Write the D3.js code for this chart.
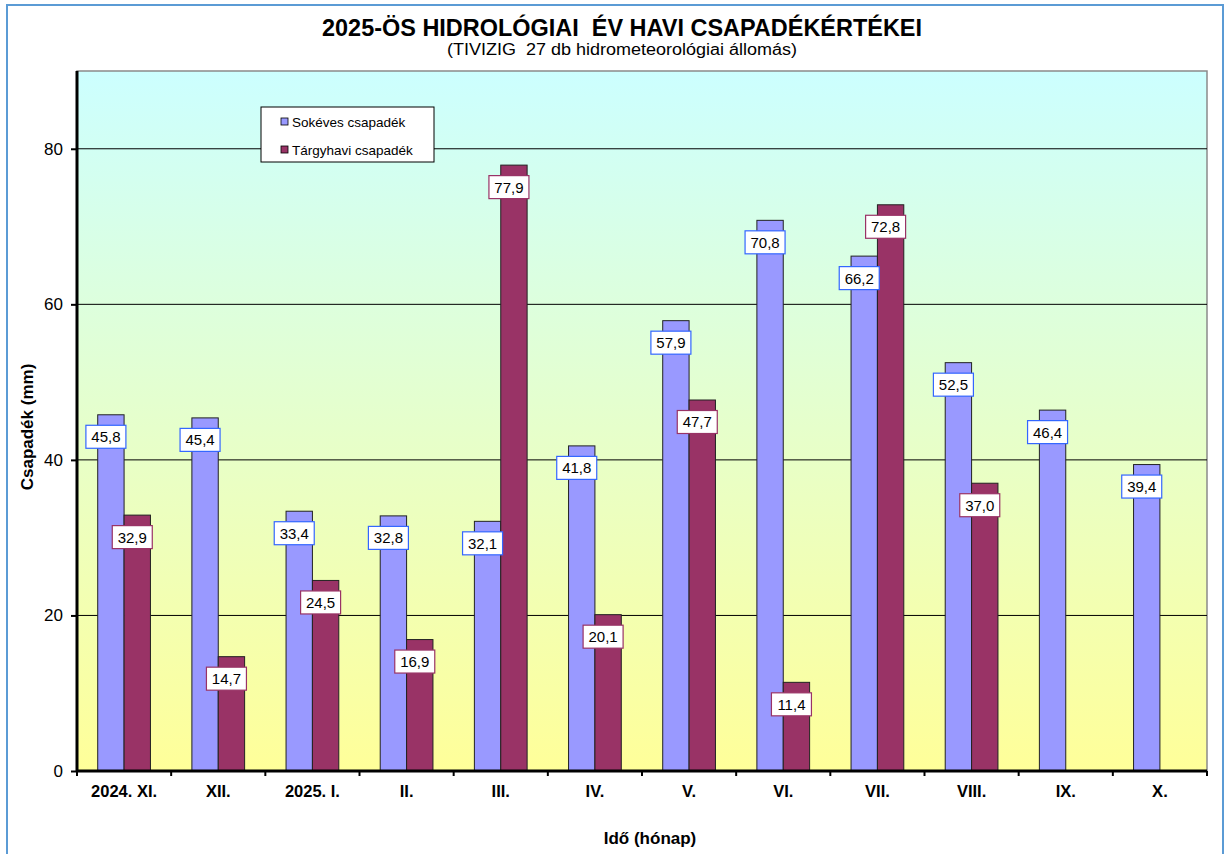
<!DOCTYPE html>
<html>
<head>
<meta charset="utf-8">
<script src="https://cdnjs.cloudflare.com/ajax/libs/d3/7.8.5/d3.min.js"></script>
<style>
  body { margin: 0; background: #fff; }
  text { font-family: Arial, "Liberation Sans", sans-serif; }
</style>
</head>
<body>
<div id="chart"></div>
<script>
// data
var months = ["2024. XI.", "XII.", "2025. I.", "II.", "III.", "IV.", "V.", "VI.", "VII.", "VIII.", "IX.", "X."];
var sokeves = [45.8, 45.4, 33.4, 32.8, 32.1, 41.8, 57.9, 70.8, 66.2, 52.5, 46.4, 39.4];
var targyhavi = [32.9, 14.7, 24.5, 16.9, 77.9, 20.1, 47.7, 11.4, 72.8, 37.0, null, null];
var seriesNames = ["Sokéves csapadék", "Tárgyhavi csapadék"];
var yTicks = [0, 20, 40, 60, 80];

var W = 1225, H = 854;
var plot = { left: 77, right: 1207, top: 71, bottom: 771 };
var colors = ["#9999ff", "#993366"];
var labelBorders = ["#3366ff", "#993366"];

var svg = d3.select("#chart").append("svg")
    .attr("width", W)
    .attr("height", H);

// outer frame
svg.append("rect")
    .attr("x", 7).attr("y", 5)
    .attr("width", 1216).attr("height", 860)
    .attr("fill", "#fff")
    .attr("stroke", "#5b9bd5")
    .attr("stroke-width", 2);

// background gradient for plot area
var grad = svg.append("defs").append("linearGradient")
    .attr("id", "bg").attr("x1", 0).attr("y1", 0).attr("x2", 0).attr("y2", 1);
grad.append("stop").attr("offset", "0%").attr("stop-color", "#ccffff");
grad.append("stop").attr("offset", "100%").attr("stop-color", "#ffff99");

var x0 = d3.scaleBand().domain(months).range([plot.left, plot.right]).paddingInner(0.44).paddingOuter(0.22);
var x1 = d3.scaleBand().domain([0, 1]).range([0, x0.bandwidth()]);
var y = d3.scaleLinear().domain([0, 90]).range([plot.bottom, plot.top]);

svg.append("rect")
    .attr("x", plot.left).attr("y", plot.top)
    .attr("width", plot.right - plot.left).attr("height", plot.bottom - plot.top)
    .attr("fill", "url(#bg)")
    .attr("stroke", "#8a8a8a")
    .attr("stroke-width", 1.5);

// gridlines
svg.append("g").selectAll("line")
    .data(yTicks.filter(function(d) { return d > 0; }))
    .enter().append("line")
    .attr("x1", plot.left).attr("x2", plot.right)
    .attr("y1", function(d) { return y(d); })
    .attr("y2", function(d) { return y(d); })
    .attr("stroke", "#000")
    .attr("stroke-width", 1);

// bars
var series = [sokeves, targyhavi];
series.forEach(function(vals, s) {
    svg.append("g").selectAll("rect")
        .data(vals.map(function(v, i) { return { m: months[i], v: v }; }).filter(function(d) { return d.v != null; }))
        .enter().append("rect")
        .attr("x", function(d) { return x0(d.m) + x1(s); })
        .attr("y", function(d) { return y(d.v); })
        .attr("width", x1.bandwidth())
        .attr("height", function(d) { return y(0) - y(d.v); })
        .attr("fill", colors[s])
        .attr("stroke", "#222")
        .attr("stroke-width", 1);
});

// value labels
var fmt = function(v) { return d3.format(".1f")(v).replace(".", ","); };
series.forEach(function(vals, s) {
    var g = svg.append("g").selectAll("g")
        .data(vals.map(function(v, i) { return { m: months[i], v: v }; }).filter(function(d) { return d.v != null; }))
        .enter().append("g")
        .attr("transform", function(d) {
            var cx = x0(d.m) + x1(s) + x1.bandwidth() / 2 - 5;
            var cy = y(d.v) + 22;
            return "translate(" + cx + "," + cy + ")";
        });
    g.append("rect")
        .attr("x", -20).attr("y", -11.5)
        .attr("width", 40).attr("height", 23)
        .attr("fill", "#fff")
        .attr("stroke", labelBorders[s])
        .attr("stroke-width", 1.2);
    g.append("text")
        .attr("text-anchor", "middle")
        .attr("dy", "0.36em")
        .style("font-size", "15px")
        .attr("fill", "#000")
        .text(function(d) { return fmt(d.v); });
});

// axes
var yAxis = svg.append("g")
    .attr("transform", "translate(" + plot.left + ",0)")
    .call(d3.axisLeft(y).tickValues(yTicks).tickSize(6).tickPadding(8));
yAxis.select(".domain").attr("stroke", "#000").attr("stroke-width", 3)
    .attr("d", "M0," + plot.top + "V" + plot.bottom);
yAxis.selectAll(".tick line").attr("stroke", "#000").attr("stroke-width", 2);
yAxis.selectAll(".tick text").style("font-size", "17px").attr("fill", "#000");

var xAxis = svg.append("g")
    .attr("transform", "translate(0," + plot.bottom + ")")
    .call(d3.axisBottom(x0).tickSize(0).tickPadding(14));
xAxis.select(".domain").attr("stroke", "#000").attr("stroke-width", 3)
    .attr("d", "M" + plot.left + ",0H" + plot.right);
xAxis.selectAll(".tick text").style("font-size", "16.5px").style("font-weight", "bold").attr("fill", "#000");

// category separator ticks
svg.append("g").selectAll("line")
    .data(d3.range(months.length + 1))
    .enter().append("line")
    .attr("x1", function(i) { return plot.left + i * (plot.right - plot.left) / months.length; })
    .attr("x2", function(i) { return plot.left + i * (plot.right - plot.left) / months.length; })
    .attr("y1", plot.bottom).attr("y2", plot.bottom + 5)
    .attr("stroke", "#000").attr("stroke-width", 2);

// titles
svg.append("text")
    .attr("x", 622).attr("y", 36)
    .attr("text-anchor", "middle")
    .attr("textLength", 600)
    .attr("lengthAdjust", "spacingAndGlyphs")
    .attr("xml:space", "preserve")
    .style("font-size", "23px")
    .style("font-weight", "bold")
    .text("2025-ÖS HIDROLÓGIAI  ÉV HAVI CSAPADÉKÉRTÉKEI");
svg.append("text")
    .attr("x", 622).attr("y", 55)
    .attr("text-anchor", "middle")
    .attr("textLength", 350)
    .attr("lengthAdjust", "spacingAndGlyphs")
    .attr("xml:space", "preserve")
    .style("font-size", "16px")
    .text("(TIVIZIG  27 db hidrometeorológiai állomás)");

svg.append("text")
    .attr("transform", "translate(33,427) rotate(-90)")
    .attr("text-anchor", "middle")
    .style("font-size", "17px")
    .style("font-weight", "bold")
    .text("Csapadék (mm)");

svg.append("text")
    .attr("x", 650).attr("y", 844)
    .attr("text-anchor", "middle")
    .style("font-size", "17px")
    .style("font-weight", "bold")
    .text("Idő (hónap)");

// legend
var legend = svg.append("g").attr("transform", "translate(261,107)");
legend.append("rect")
    .attr("width", 173).attr("height", 55)
    .attr("fill", "#fff")
    .attr("stroke", "#000")
    .attr("stroke-width", 1);
seriesNames.forEach(function(name, i) {
    legend.append("rect")
        .attr("x", 20).attr("y", 11 + i * 28)
        .attr("width", 7).attr("height", 7)
        .attr("fill", colors[i])
        .attr("stroke", "#000")
        .attr("stroke-width", 0.8);
    legend.append("text")
        .attr("x", 31).attr("y", 19.5 + i * 28)
        .style("font-size", "13.5px")
        .text(name);
});
</script>
</body>
</html>
